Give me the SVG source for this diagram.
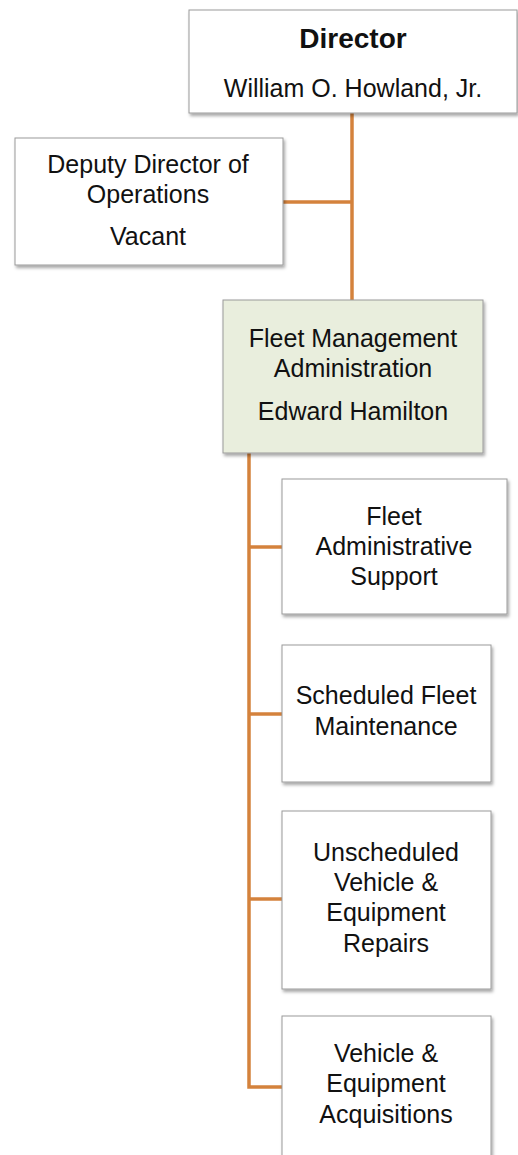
<svg xmlns="http://www.w3.org/2000/svg" width="518" height="1155" viewBox="0 0 518 1155">
<style>
.box{fill:#ffffff;stroke:#9a9a9a;stroke-width:1;filter:url(#sh)}
.green{fill:#e9eedd}
.t{font-family:"Liberation Sans",Arial,sans-serif;font-size:25px;fill:#111;text-anchor:middle}
.b{font-weight:bold;font-size:28px}
.c{stroke:#d4823c;stroke-width:3.5;fill:none}
</style>
<defs>
<filter id="sh" x="-10%" y="-10%" width="120%" height="130%">
<feDropShadow dx="1.5" dy="2.5" stdDeviation="1.8" flood-color="#000" flood-opacity="0.35"/>
</filter>
</defs>
<rect width="518" height="1155" fill="#ffffff"/>
<g id="connectors">
<path class="c" d="M352 113V300"/>
<path class="c" d="M283 202H352"/>
<path class="c" d="M249 453V1087H282"/>
<path class="c" d="M249 547H282"/>
<path class="c" d="M249 714H282"/>
<path class="c" d="M249 899H282"/>
</g>
<g id="director">
<rect class="box" x="189" y="10" width="328" height="103"/>
<text class="t b" x="353" y="48">Director</text>
<text class="t" x="353" y="97">William O. Howland, Jr.</text>
</g>
<g id="deputy">
<rect class="box" x="15" y="138" width="268" height="127"/>
<text class="t" x="148" y="173">Deputy Director of</text>
<text class="t" x="148" y="203">Operations</text>
<text class="t" x="148" y="245">Vacant</text>
</g>
<g id="fleet-mgmt">
<rect class="box green" x="223" y="300" width="260" height="153"/>
<text class="t" x="353" y="347">Fleet Management</text>
<text class="t" x="353" y="377">Administration</text>
<text class="t" x="353" y="420">Edward Hamilton</text>
</g>
<g id="fleet-admin-support">
<rect class="box" x="282" y="479" width="225" height="135"/>
<text class="t" x="394" y="525">Fleet</text>
<text class="t" x="394" y="555">Administrative</text>
<text class="t" x="394" y="585">Support</text>
</g>
<g id="scheduled-maint">
<rect class="box" x="282" y="645" width="209" height="137"/>
<text class="t" x="386" y="704">Scheduled Fleet</text>
<text class="t" x="386" y="735">Maintenance</text>
</g>
<g id="unscheduled-repairs">
<rect class="box" x="282" y="811" width="209" height="178"/>
<text class="t" x="386" y="861">Unscheduled</text>
<text class="t" x="386" y="891">Vehicle &amp;</text>
<text class="t" x="386" y="921">Equipment</text>
<text class="t" x="386" y="952">Repairs</text>
</g>
<g id="acquisitions">
<rect class="box" x="282" y="1016" width="209" height="160"/>
<text class="t" x="386" y="1062">Vehicle &amp;</text>
<text class="t" x="386" y="1092">Equipment</text>
<text class="t" x="386" y="1123">Acquisitions</text>
</g>
</svg>
